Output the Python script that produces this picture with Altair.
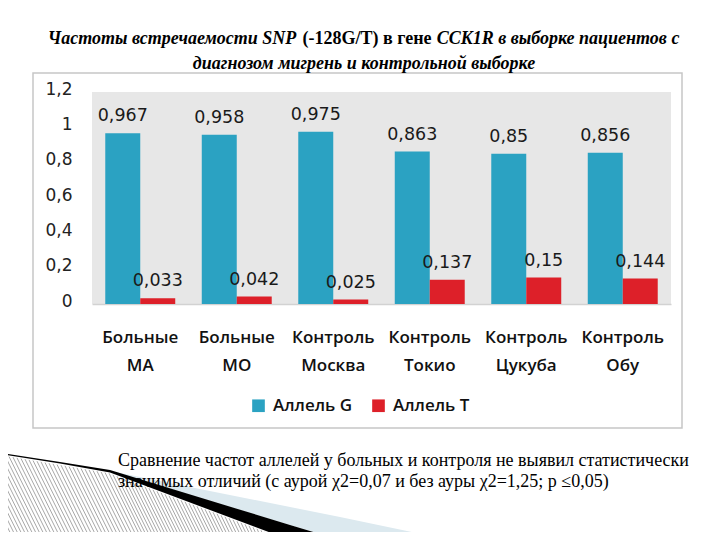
import altair as alt
import pandas as pd

categories = ["Больные\nМА", "Больные\nМО", "Контроль\nМосква", "Контроль\nТокио", "Контроль\nЦукуба", "Контроль\nОбу"]
allele_g = [0.967, 0.958, 0.975, 0.863, 0.85, 0.856]
allele_t = [0.033, 0.042, 0.025, 0.137, 0.15, 0.144]
series = ["Аллель G", "Аллель T"]
colors = ["#2ba2c2", "#dd2029"]
y_ticks = [0, 0.2, 0.4, 0.6, 0.8, 1, 1.2]

title_a = "Частоты встречаемости SNP"
title_b = "(-128G/T) в гене"
title_c = "CCK1R в выборке пациентов с"
title_d = "диагнозом мигрень и контрольной выборке"
note_1 = "Сравнение частот аллелей у больных и контроля не выявил статистически"
note_2 = "значимых отличий (с аурой χ2=0,07 и без ауры χ2=1,25; p ≤0,05)"

rows = []
for c, g, t in zip(categories, allele_g, allele_t):
    rows.append({"cat": c, "allele": series[0], "value": g})
    rows.append({"cat": c, "allele": series[1], "value": t})
df = pd.DataFrame(rows)

W, H = 579, 212
OX, OY = 92, 92  # page position of the plot origin (for decorations)

x_scale = alt.Scale(paddingInner=0.275, paddingOuter=0.1375)
xo_scale = alt.Scale(paddingInner=0, paddingOuter=0)
y_scale = alt.Scale(domain=[0, 1.2], nice=False)

x_axis = alt.Axis(labelExpr="split(datum.label, '\\n')", labelAngle=0,
                  labelFont="Open Sans", labelFontWeight=600, labelFontSize=17,
                  labelColor="#111111", labelLineHeight=28, labelPadding=25,
                  labelBaseline="top",
                  ticks=False, tickSize=0, domain=True, domainColor="#d2d2d2",
                  domainWidth=1.5, grid=False)
y_axis = alt.Axis(values=y_ticks, labelExpr="replace(format(datum.value, '.1~f'), '.', ',')",
                  labelFont="DejaVu Sans", labelFontSize=17, labelColor="#222222",
                  labelPadding=20, ticks=False, tickSize=0, domain=False, grid=False,
                  labelOffset=-3)

base = alt.Chart(df)

bars = base.mark_bar().encode(
    x=alt.X("cat:N", sort=categories, title=None, scale=x_scale, axis=x_axis),
    xOffset=alt.XOffset("allele:N", sort=series, scale=xo_scale),
    y=alt.Y("value:Q", title=None, scale=y_scale, axis=y_axis),
    color=alt.Color("allele:N", sort=series,
                    scale=alt.Scale(domain=series, range=colors),
                    legend=alt.Legend(title=None, orient="none", legendX=158, legendY=305,
                                      direction="horizontal", symbolType="square",
                                      symbolSize=160, symbolStrokeWidth=0,
                                      labelFont="Open Sans", labelFontWeight=600,
                                      labelFontSize=17, labelColor="#111111",
                                      labelOffset=6, columnPadding=17)),
)

labels = base.mark_text(baseline="alphabetic", dy=-12, font="DejaVu Sans",
                        fontSize=17.5, color="#1a1a1a").transform_calculate(
    label="replace(toString(datum.value), '.', ',')"
).encode(
    x=alt.X("cat:N", sort=categories, title=None, scale=x_scale, axis=None),
    xOffset=alt.XOffset("allele:N", sort=series, scale=xo_scale),
    y=alt.Y("value:Q", title=None, scale=y_scale, axis=None),
    text="label:N")

box = alt.Chart(pd.DataFrame({"k": [0]})).mark_rect(fill=None, stroke="#c6c6c6", strokeWidth=1.5).encode(
    x=alt.value(-59), x2=alt.value(590), y=alt.value(-19), y2=alt.value(336))

# ---- decorative slide ornament (bottom-left), outline in page pixels ----
deco_blue = pd.DataFrame({"px": [110.0, 340.0, 450.0], "top": [471.0, 517.0, 540.0], "bot": [471.0, 540.0, 540.0]})
deco_black = pd.DataFrame({"px": [8.0, 60.0, 110.0, 290.0, 340.0], "top": [454.0, 462.0, 470.0, 525.0, 540.0], "bot": [455.2, 463.5, 472.5, 540.0, 540.0]})
for d in (deco_blue, deco_black):
    d["px"] = d["px"] - OX
    d["top"] = d["top"] - OY
    d["bot"] = d["bot"] - OY

# hatch stripes under the black band (two points per stripe)
hatch_rows = []
for i in range(95):
    x0 = -80.0 + 4.0 * i
    if x0 <= 110:
        yt = 455.0 + (x0 - 8.0) * (17.0 / 102.0)
    else:
        yt = 472.5 + (x0 - 110.0) * (67.5 / 180.0)
    if yt >= 532:
        continue
    hatch_rows.append({"sid": i, "hx": x0 + 1.0 - OX, "hy": yt + 1.5 - OY})
    hatch_rows.append({"sid": i, "hx": x0 + (534.0 - yt) * 0.5 - OX, "hy": 534.0 - OY})
hatch = pd.DataFrame(hatch_rows)

def deco(d, color):
    return alt.Chart(d).mark_area(color=color, fill=color, opacity=1, interpolate="linear").encode(
        x=alt.X("px:Q", scale=None, axis=None),
        y=alt.Y("top:Q", scale=None, axis=None, stack=None),
        y2="bot:Q")

d1 = deco(deco_blue, "#dce9ef")
d3 = deco(deco_black, "#000000")
d2 = alt.Chart(hatch).mark_line(color="#a8a8a8", strokeWidth=1).encode(
    x=alt.X("hx:Q", scale=None, axis=None), y=alt.Y("hy:Q", scale=None, axis=None),
    detail="sid:N")

tdf = pd.DataFrame({"k": [0]})
def txt(s, x, y, align="center", style="italic", weight="bold", size=18):
    return alt.Chart(tdf).mark_text(text=s, align=align, baseline="alphabetic",
                                    font="Liberation Serif", fontStyle=style,
                                    fontWeight=weight, fontSize=size, color="#000000").encode(
        x=alt.value(x), y=alt.value(y))

t1 = txt(title_a, 80, -48)
t2 = txt(title_b, 275, -48, style="normal")
t3 = txt(title_c, 466, -48)
t4 = txt(title_d, 272, -23)
n1 = txt(note_1, 26, 374, align="left", style="normal", weight="normal", size=18)
n2 = txt(note_2, 26, 395, align="left", style="normal", weight="normal", size=18)

chart = alt.layer(d1, d2, d3, box, bars, labels, t1, t2, t3, t4, n1, n2).properties(
    width=W, height=H,
    autosize=alt.AutoSizeParams(type="none"),
    padding={"left": 84, "top": 84, "right": 41, "bottom": 228},
    background="white",
).resolve_scale(x="independent", y="independent").configure_view(fill="#e7e7e7", stroke=None)

chart.save("out.html", embed_options={"renderer": "svg", "actions": False})
